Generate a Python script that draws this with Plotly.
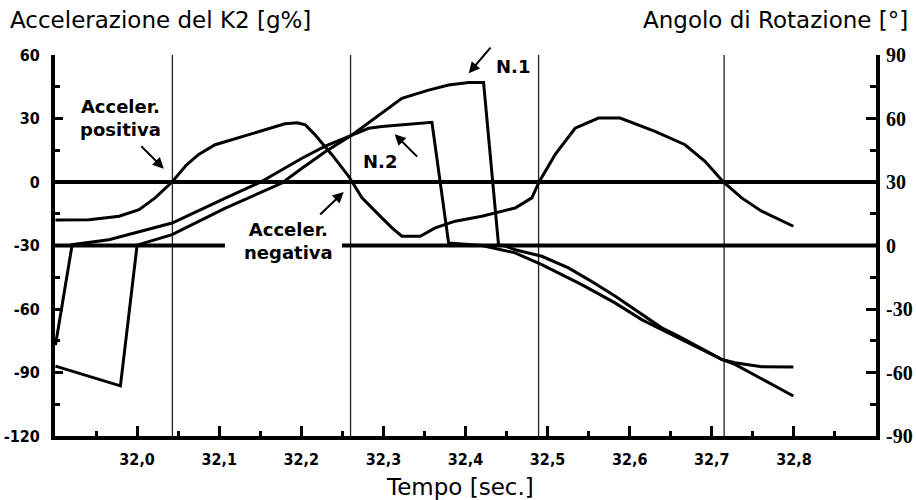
import plotly.graph_objects as go

# ---------------- data ----------------
# Acceleration of K2 [g%] (left axis)
time_acc = [31.9006, 31.9416, 31.9781, 32.0024, 32.0219, 32.0426, 32.0600, 32.0750,
            32.0950, 32.1280, 32.1600, 32.1800, 32.1950, 32.2050, 32.2167, 32.2373,
            32.2577, 32.2739, 32.2942, 32.3104, 32.3225, 32.3448, 32.3631, 32.3874,
            32.4199, 32.4604, 32.4808, 32.4896, 32.5091, 32.5335, 32.5620, 32.5883,
            32.6308, 32.6674, 32.6917, 32.7141, 32.7364, 32.7607, 32.7993]
acc = [-17.9, -17.8, -16.2, -13.1, -7.5, 0.0, 8.0, 13.0,
       17.6, 21.5, 25.0, 27.5, 28.0, 27.0, 22.3, 12.9,
       2.7, -7.5, -15.4, -21.7, -25.6, -25.6, -21.7, -18.5,
       -16.2, -12.3, -7.5, 0.0, 12.9, 25.4, 30.2, 30.2,
       23.9, 17.6, 9.8, 0.0, -7.5, -13.8, -20.9]

# Rotation angle, N.1 [deg] (right axis)
time_n1 = [31.9006, 31.9797, 32.0000, 32.0426, 32.1075, 32.1765, 32.2008, 32.2292,
           32.2617, 32.2900, 32.3225, 32.3550, 32.3794, 32.4037, 32.4220, 32.4402,
           32.4503, 32.4604, 32.4929, 32.5254, 32.5498, 32.5821, 32.6065, 32.6390,
           32.6593, 32.7120, 32.7282, 32.7689, 32.7993]
ang_n1 = [-57.0, -66.3, 0.2, 5.1, 17.7, 29.5, 36.5, 44.3,
          52.2, 60.1, 69.5, 73.4, 75.8, 77.0, 77.0, 0.4,
          -0.5, -2.0, -5.1, -10.6, -16.1, -23.9, -30.3, -38.9,
          -42.8, -53.8, -56.2, -64.8, -71.1]

# Rotation angle, N.2 [deg] (right axis)
time_n2 = [31.9006, 31.9209, 31.9656, 32.0426, 32.1075, 32.1501, 32.2008, 32.2292,
           32.2617, 32.2820, 32.2982, 32.3591, 32.3794, 32.4199, 32.4604, 32.4929,
           32.5416, 32.5821, 32.6146, 32.6471, 32.6755, 32.7120, 32.7282, 32.7607,
           32.7993]
ang_n2 = [-47.0, 0.4, 2.7, 10.6, 22.4, 29.9, 41.2, 46.9,
          52.2, 55.4, 56.2, 58.2, 1.2, 0.0, -3.5, -9.0,
          -18.5, -27.1, -35.0, -41.2, -46.7, -53.8, -55.4, -57.3,
          -57.4]

zero_crossings = [32.043, 32.260, 32.489, 32.715]

x_ticks = [32.0, 32.1, 32.2, 32.3, 32.4, 32.5, 32.6, 32.7, 32.8]
x_tick_labels = ["32,0", "32,1", "32,2", "32,3", "32,4", "32,5", "32,6", "32,7", "32,8"]
x_minor = [31.95, 32.05, 32.15, 32.25, 32.35, 32.45, 32.55, 32.65, 32.75, 32.85]

acc_ticks = [-120, -90, -60, -30, 0, 30, 60]
acc_tick_labels = ["-120", "-90", "-60", "-30", "0", "30", "60"]
acc_minor = [-105, -75, -45, -15, 15, 45]

ang_ticks = [-90, -60, -30, 0, 30, 60, 90]
ang_tick_labels = ["-90", "-60", "-30", "0", "30", "60", "90"]
ang_minor = [-75, -45, -15, 15, 45, 75]

# ---------------- figure ----------------
fig = go.Figure()
line_style = dict(color="black", width=3)
fig.add_trace(go.Scatter(x=time_acc, y=acc, mode="lines", line=line_style,
                         name="Accelerazione", yaxis="y"))
fig.add_trace(go.Scatter(x=time_n1, y=ang_n1, mode="lines", line=line_style,
                         name="N.1", yaxis="y2"))
fig.add_trace(go.Scatter(x=time_n2, y=ang_n2, mode="lines", line=line_style,
                         name="N.2", yaxis="y2"))

shapes = []
for xc in zero_crossings:
    shapes.append(dict(type="line", xref="x", yref="paper", x0=xc, x1=xc, y0=0, y1=1,
                       line=dict(color="#222", width=1.3), layer="below"))
# zero acceleration line
shapes.append(dict(type="line", xref="paper", yref="y", x0=0, x1=1, y0=0, y1=0,
                   line=dict(color="black", width=4), layer="below"))
# zero angle line (interrupted by the label)
shapes.append(dict(type="line", xref="paper", yref="y2", x0=0, x1=0.207, y0=0, y1=0,
                   line=dict(color="black", width=4), layer="below"))
shapes.append(dict(type="line", xref="paper", yref="y2", x0=0.3496, x1=1, y0=0, y1=0,
                   line=dict(color="black", width=4), layer="below"))

tick_font = dict(family="DejaVu Sans Condensed, Liberation Sans Narrow, sans-serif",
                 size=16, color="black", weight="bold")
label_font = dict(family="DejaVu Sans, sans-serif", size=18, color="black", weight="bold")
title_font = dict(family="DejaVu Sans, sans-serif", size=23, color="black")

annotations = [
    dict(text="Accelerazione del K2 [g%]", xref="paper", yref="paper", x=-0.0573, y=1.093,
         xanchor="left", yanchor="middle", showarrow=False, font=title_font),
    dict(text="Angolo di Rotazione [°]", xref="paper", yref="paper", x=1.0414, y=1.093,
         xanchor="right", yanchor="middle", showarrow=False, font=title_font),
    dict(text="Tempo [sec.]", xref="paper", yref="paper", x=0.4933, y=-0.134,
         xanchor="center", yanchor="middle", showarrow=False, font=title_font),
    dict(text="Acceler.<br>positiva", xref="x", yref="y", x=31.9793, y=30.2,
         showarrow=False, font=label_font),
    dict(text="Acceler.<br>negativa", xref="x", yref="y", x=32.1846, y=-27.8,
         showarrow=False, font=label_font),
    dict(text="N.1", xref="x", yref="y", x=32.4576, y=54.7, showarrow=False, font=label_font),
    dict(text="N.2", xref="x", yref="y", x=32.2958, y=9.9, showarrow=False, font=label_font),
]
arrow_common = dict(text="", showarrow=True, arrowhead=2, arrowsize=1.1, arrowwidth=2,
                    arrowcolor="black", xref="x", yref="y", standoff=0)
annotations += [
    dict(x=32.0325, y=6.3, ax=-24, ay=-24, **arrow_common),
    dict(x=32.2516, y=-4.7, ax=-25, ay=24, **arrow_common),
    dict(x=32.4040, y=51.4, ax=23, ay=-27, **arrow_common),
    dict(x=32.3137, y=22.6, ax=24, ay=24, **arrow_common),
]

fig.update_layout(
    width=916, height=500,
    margin=dict(l=55, r=40, t=55, b=64),
    paper_bgcolor="white", plot_bgcolor="white",
    showlegend=False,
    shapes=shapes,
    annotations=annotations,
    xaxis=dict(range=[31.9, 32.9], tickmode="array", tickvals=x_ticks, ticktext=x_tick_labels,
               ticks="inside", ticklen=10, tickwidth=3, tickcolor="black", automargin=False,
               showline=True, linewidth=4, linecolor="black", showgrid=False, zeroline=False,
               tickfont=tick_font, ticklabelstandoff=6,
               minor=dict(tickmode="array", tickvals=x_minor, ticks="inside", ticklen=5,
                          tickwidth=3, tickcolor="black", showgrid=False)),
    yaxis=dict(range=[-120, 60], tickmode="array", tickvals=acc_ticks, ticktext=acc_tick_labels,
               ticks="inside", ticklen=8, tickwidth=3, tickcolor="black", automargin=False,
               showline=True, linewidth=4, linecolor="black", showgrid=False, zeroline=False,
               tickfont=tick_font, ticklabelstandoff=8,
               minor=dict(tickmode="array", tickvals=acc_minor, ticks="inside", ticklen=5,
                          tickwidth=3, tickcolor="black", showgrid=False)),
    yaxis2=dict(range=[-90, 90], overlaying="y", side="right", tickmode="array",
                tickvals=ang_ticks, ticktext=ang_tick_labels, automargin=False,
                ticks="inside", ticklen=10, tickwidth=3, tickcolor="black",
                showline=True, linewidth=4, linecolor="black", showgrid=False, zeroline=False,
                tickfont=dict(family="Liberation Serif, serif", size=20, color="black",
                              weight="bold"), ticklabelstandoff=2,
                minor=dict(tickmode="array", tickvals=ang_minor, ticks="inside", ticklen=6,
                           tickwidth=3, tickcolor="black", showgrid=False)),
)

fig.write_html("out.html")
